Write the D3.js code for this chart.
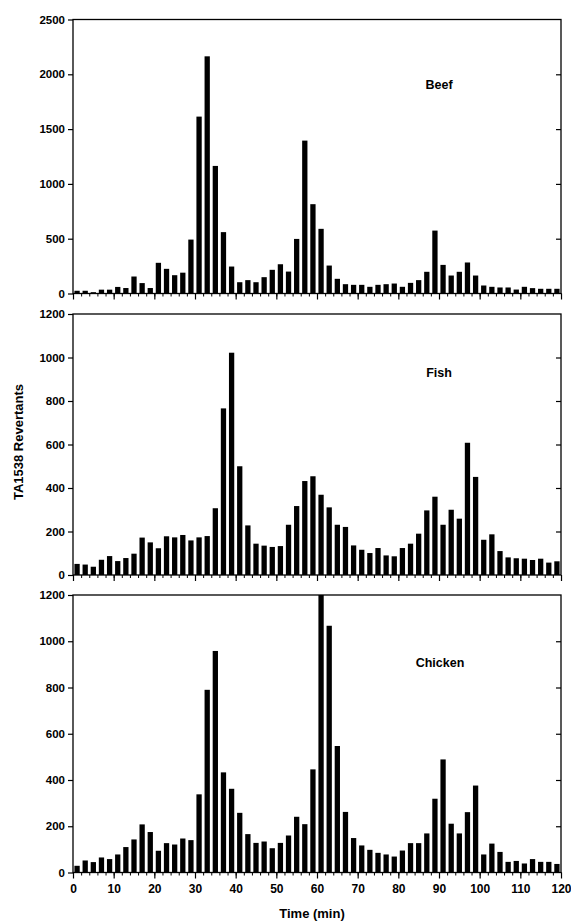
<!DOCTYPE html>
<html>
<head>
<meta charset="utf-8">
<script src="https://cdn.jsdelivr.net/npm/d3@7"></script>
<style>
  body { margin: 0; background: #fff; }
  text { font-family: "Liberation Sans", Arial, sans-serif; font-weight: bold; fill: #000; }
</style>
</head>
<body>
<div id="chart"></div>
<script>
// sampling times (min), one fraction every 2 minutes
const times = [1,3,5,7,9,11,13,15,17,19,21,23,25,27,29,31,33,35,37,39,
               41,43,45,47,49,51,53,55,57,59,61,63,65,67,69,71,73,75,77,79,
               81,83,85,87,89,91,93,95,97,99,101,103,105,107,109,111,113,115,117,119];

const beef = [25,25,12,35,35,60,50,155,95,50,280,225,167,190,492,1614,2164,1164,560,246,
              103,122,103,149,216,267,200,498,1395,815,590,255,134,85,79,79,61,79,85,91,
              61,97,122,198,574,261,164,198,283,164,73,61,55,55,36,61,49,43,43,43];

const fish = [51,48,38,70,87,64,78,98,172,150,123,178,173,184,159,173,179,307,766,1022,
              500,228,144,135,129,133,231,317,432,454,369,311,231,221,136,116,101,124,90,86,
              124,144,190,297,360,231,300,259,608,451,162,187,110,81,77,75,69,75,57,63];

const chicken = [29,52,45,65,58,78,110,143,208,175,94,127,121,147,140,338,790,958,433,362,
                 258,166,128,134,105,128,160,241,209,446,1200,1067,547,262,149,117,98,85,78,69,
                 95,127,127,169,319,489,211,169,261,376,78,125,89,46,50,39,58,46,46,37];

const panelNames = ["Beef", "Fish", "Chicken"];
const panelMax = [2500, 1200, 1200];
const panelStep = [500, 200, 200];
const xTicks = [0,10,20,30,40,50,60,70,80,90,100,110,120];

const width = 571, height = 923;
const left = 73, right = 561;
const panels = [
  {name: panelNames[0], values: beef,    max: panelMax[0], step: panelStep[0], top: 19.5, bottom: 293.5, labelY: 89},
  {name: panelNames[1], values: fish,    max: panelMax[1], step: panelStep[1], top: 314,  bottom: 575,   labelY: 377},
  {name: panelNames[2], values: chicken, max: panelMax[2], step: panelStep[2], top: 595,  bottom: 872.5, labelY: 667}
];

const svg = d3.select("#chart").append("svg")
    .attr("width", width)
    .attr("height", height);

const x = d3.scaleLinear().domain([0, 120]).range([left, right]);
const halfBar = 0.65;

panels.forEach((p, i) => {
  const y = d3.scaleLinear().domain([0, p.max]).range([p.bottom, p.top]);
  const g = svg.append("g");
  const yTicks = d3.range(0, p.max + 1, p.step);

  // bars
  g.selectAll("rect")
    .data(times)
    .enter()
    .append("rect")
    .attr("x", (t) => x(t - halfBar))
    .attr("width", (t) => x(t + halfBar) - x(t - halfBar))
    .attr("y", (t, k) => y(Math.min(p.values[k], p.max)))
    .attr("height", (t, k) => p.bottom - y(Math.min(p.values[k], p.max)))
    .attr("fill", "#000");

  // frame
  g.append("rect")
    .attr("x", left).attr("y", p.top)
    .attr("width", right - left).attr("height", p.bottom - p.top)
    .attr("fill", "none").attr("stroke", "#000").attr("stroke-width", 1.3);

  // left axis
  const yAxis = d3.axisLeft(y).tickValues(yTicks).tickSize(5).tickPadding(3).tickFormat(d3.format("d"));
  const ga = g.append("g").attr("transform", `translate(${left},0)`).call(yAxis);
  ga.select(".domain").remove();
  ga.selectAll("text").style("font-size", "11.5px").style("font-family", null);
  ga.selectAll("line").attr("stroke-width", 1.2);

  // right axis, ticks pointing inside
  const gr = g.append("g").attr("transform", `translate(${right},0)`)
    .call(d3.axisLeft(y).tickValues(yTicks.slice(1, -1)).tickSize(5).tickFormat(""));
  gr.select(".domain").remove();
  gr.selectAll("line").attr("x2", -5).attr("stroke-width", 1.2);

  // bottom axis: minor ticks every 2 min, major every 10
  const minor = g.append("g").attr("transform", `translate(0,${p.bottom})`)
    .call(d3.axisBottom(x).tickValues(times.map(t => t - 1).concat([120])).tickSize(3).tickFormat(""));
  minor.select(".domain").remove();
  minor.selectAll("line").attr("stroke-width", 1);

  const major = g.append("g").attr("transform", `translate(0,${p.bottom})`)
    .call(d3.axisBottom(x).tickValues(xTicks).tickSize(6).tickPadding(6)
      .tickFormat(i === 2 ? d3.format("d") : ""));
  major.select(".domain").remove();
  major.selectAll("line").attr("stroke-width", 1.2);
  major.selectAll("text").style("font-size", "12px").style("font-family", null);

  // panel label
  g.append("text")
    .attr("x", i === 2 ? 440 : 439)
    .attr("y", p.labelY)
    .attr("text-anchor", "middle")
    .style("font-size", "12.5px")
    .text(p.name);
});

// axis titles
svg.append("text")
  .attr("transform", "translate(23,442) rotate(-90)")
  .attr("text-anchor", "middle")
  .style("font-size", "13px")
  .text("TA1538 Revertants");

svg.append("text")
  .attr("x", 312)
  .attr("y", 918)
  .attr("text-anchor", "middle")
  .style("font-size", "13px")
  .text("Time (min)");
</script>
</body>
</html>
